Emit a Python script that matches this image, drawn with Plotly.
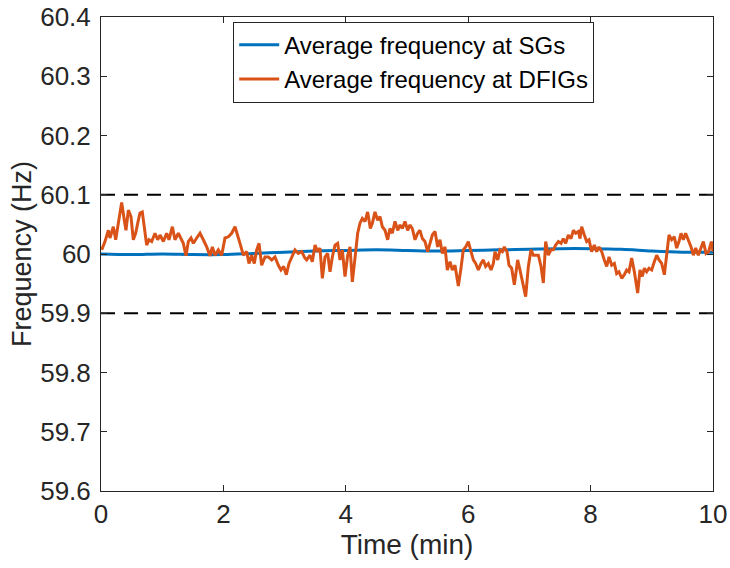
import plotly.graph_objects as go

# ---- data ----
sg_time = [0, 0.5, 1.0, 1.5, 2.0, 2.5, 3.0, 3.5, 4.0, 4.5, 5.0, 5.5, 6.0, 6.5, 7.0, 7.5, 8.0, 8.5, 9.0, 9.5, 10.0]
sg_freq = [60.0, 59.999, 60.0, 59.999, 59.999, 60.001, 60.003, 60.005, 60.006, 60.007, 60.006, 60.005, 60.006,
           60.007, 60.008, 60.009, 60.009, 60.008, 60.005, 60.003, 60.003]

dfig_time = [
    0.011, 0.065, 0.120, 0.147, 0.201, 0.240, 0.283, 0.338, 0.381, 0.408, 0.447, 0.490, 0.528, 0.566, 0.610,
    0.637, 0.675, 0.708, 0.746, 0.784, 0.828, 0.882, 0.926, 0.964, 1.019, 1.073, 1.111, 1.166, 1.209, 1.264,
    1.307, 1.345, 1.389, 1.427, 1.471, 1.509, 1.563, 1.618, 1.672, 1.727, 1.781, 1.819, 1.863, 1.917, 1.972,
    2.026, 2.081, 2.135, 2.190, 2.233, 2.271, 2.326, 2.380, 2.418, 2.462, 2.505, 2.544, 2.582, 2.625, 2.680,
    2.734, 2.789, 2.843, 2.898, 2.941, 2.985, 3.028, 3.072, 3.115, 3.170, 3.224, 3.279, 3.333,
    3.361, 3.415, 3.453, 3.497, 3.540, 3.578, 3.617, 3.660, 3.704, 3.742, 3.780, 3.824, 3.867, 3.905, 3.943,
    3.987, 4.031, 4.069, 4.107, 4.150, 4.194, 4.232, 4.270, 4.314, 4.357, 4.401, 4.434, 4.477, 4.521, 4.559,
    4.597, 4.641, 4.684, 4.722, 4.760, 4.804, 4.848, 4.886, 4.924, 4.967, 5.011, 5.049, 5.087, 5.131, 5.174,
    5.212, 5.251, 5.294, 5.338, 5.376, 5.414, 5.458, 5.501, 5.539, 5.577, 5.621, 5.659, 5.703, 5.741, 5.784,
    5.839, 5.882, 5.920, 5.959, 6.002, 6.046, 6.084, 6.122, 6.166, 6.209, 6.247, 6.285, 6.329, 6.373, 6.411,
    6.438, 6.482, 6.520, 6.558, 6.590, 6.634, 6.667, 6.710, 6.754, 6.808, 6.846, 6.885, 6.939, 6.983, 7.026,
    7.064, 7.102, 7.146, 7.190, 7.228, 7.266, 7.309, 7.353, 7.391, 7.429, 7.473, 7.516, 7.554, 7.593, 7.636,
    7.680, 7.718, 7.756, 7.800, 7.827, 7.854, 7.898, 7.936, 7.974, 8.017, 8.061, 8.099, 8.137, 8.181, 8.224,
    8.263, 8.301, 8.344, 8.388, 8.426, 8.464, 8.508, 8.551, 8.589, 8.627, 8.671, 8.715, 8.769, 8.807, 8.845,
    8.878, 8.916, 8.954, 8.998, 9.041, 9.080, 9.118, 9.161, 9.205, 9.243, 9.281, 9.325, 9.368, 9.406, 9.444,
    9.477, 9.515, 9.553, 9.597, 9.641, 9.679, 9.717, 9.760, 9.804, 9.842, 9.886, 9.929, 9.973, 10.0,
]
dfig_freq = [
    60.007, 60.021, 60.040, 60.027, 60.046, 60.024, 60.052, 60.087, 60.057, 60.040, 60.074, 60.063, 60.024, 60.035, 60.057,
    60.069, 60.071, 60.040, 60.015, 60.024, 60.021, 60.035, 60.024, 60.032, 60.021, 60.035, 60.024, 60.046, 60.024, 60.035,
    60.027, 60.018, 59.997, 60.021, 60.027, 60.018, 60.027, 60.035, 60.024, 60.012, 59.997, 60.012, 59.998, 60.007, 59.998,
    60.027, 60.029, 60.035, 60.046, 60.029, 60.018, 59.998, 60.004, 59.984, 59.998, 59.984, 60.007, 60.018, 59.981, 59.995,
    59.995, 59.990, 59.995, 59.981, 59.973, 59.979, 59.965, 59.984, 59.995, 60.007, 60.001, 60.004, 59.993,
    59.990, 59.998, 59.987, 60.015, 60.004, 60.010, 59.959, 59.995, 60.001, 59.970, 59.995, 60.015, 60.018, 59.990, 60.007,
    59.962, 59.998, 60.012, 59.953, 59.993, 60.035, 60.052, 60.060, 60.055, 60.071, 60.043, 60.052, 60.071, 60.057, 60.063,
    60.046, 60.040, 60.024, 60.043, 60.035, 60.055, 60.040, 60.049, 60.043, 60.055, 60.040, 60.049, 60.043, 60.024, 60.035,
    60.040, 60.026, 60.021, 60.004, 60.018, 60.032, 60.038, 60.012, 60.024, 60.001, 60.012, 59.973, 59.987, 59.973, 59.981,
    59.946, 59.976, 60.007, 60.012, 60.021, 60.004, 59.990, 59.984, 59.973, 59.984, 59.990, 59.979, 59.984, 59.973, 59.984,
    60.004, 59.990, 60.007, 60.004, 60.012, 60.004, 59.981, 59.976, 59.948, 59.990, 59.973, 59.956, 59.928, 59.979, 60.007,
    59.998, 59.998, 59.998, 59.979, 59.951, 60.021, 59.998, 60.007, 60.007, 60.015, 60.021, 60.018, 60.026, 60.018, 60.032,
    60.026, 60.040, 60.035, 60.038, 60.026, 60.046, 60.032, 60.021, 60.024, 60.004, 60.015, 60.004, 60.012, 60.004, 59.990,
    59.979, 59.995, 59.981, 59.984, 59.967, 59.970, 59.959, 59.965, 59.973, 59.970, 59.993, 59.970, 59.934, 59.973, 59.962,
    59.976, 59.970, 59.976, 59.973, 59.987, 59.998, 59.990, 59.984, 59.965, 59.998, 60.032, 60.024, 60.029, 60.010, 60.021,
    60.035, 60.024, 60.035, 60.024, 60.012, 59.998, 60.010, 59.998, 60.010, 60.021, 60.001, 60.004, 60.021, 60.004,
]

limit_time = [0, 10]
upper_limit = [60.1, 60.1]
lower_limit = [59.9, 59.9]

x_ticks = [0, 2, 4, 6, 8, 10]
y_ticks = [59.6, 59.7, 59.8, 59.9, 60.0, 60.1, 60.2, 60.3, 60.4]
y_tick_text = ["59.6", "59.7", "59.8", "59.9", "60", "60.1", "60.2", "60.3", "60.4"]

# ---- figure ----
FONT = "Liberation Sans, Arial, Helvetica, sans-serif"
AX = "#262626"

fig = go.Figure()
fig.add_trace(go.Scatter(x=limit_time, y=upper_limit, mode="lines", showlegend=False,
                         line=dict(color="black", width=2, dash="14px,9px"), hoverinfo="skip"))
fig.add_trace(go.Scatter(x=limit_time, y=lower_limit, mode="lines", showlegend=False,
                         line=dict(color="black", width=2, dash="14px,9px"), hoverinfo="skip"))
fig.add_trace(go.Scatter(x=sg_time, y=sg_freq, mode="lines", name="Average frequency at SGs",
                         line=dict(color="#0072BD", width=3, shape="spline")))
fig.add_trace(go.Scatter(x=dfig_time, y=dfig_freq, mode="lines", name="Average frequency at DFIGs",
                         line=dict(color="#D95319", width=3)))

fig.update_layout(
    width=730, height=568,
    margin=dict(l=101, r=17, t=17, b=77, autoexpand=False),
    paper_bgcolor="white", plot_bgcolor="white",
    font=dict(family=FONT, color=AX, size=26),
    legend=dict(x=0.216, y=0.99, xanchor="left", yanchor="top",
                bgcolor="white", bordercolor=AX, borderwidth=1,
                font=dict(size=24, color="black"), tracegroupgap=0,
                itemwidth=40),
    showlegend=True,
)
fig.update_xaxes(range=[0, 10], tickvals=x_ticks, ticks="inside", ticklen=6, tickcolor=AX,
                 showline=True, linecolor=AX, linewidth=1, mirror="ticks", showgrid=False, zeroline=False,
                 tickfont=dict(size=26, color=AX), automargin=False, ticklabeloverflow="allow",
                 title=dict(text="Time (min)", font=dict(size=28, color=AX), standoff=5))
fig.update_yaxes(range=[59.6, 60.4], tickvals=y_ticks, ticktext=y_tick_text, ticks="inside", ticklen=6,
                 tickcolor=AX, showline=True, linecolor=AX, linewidth=1, mirror="ticks", showgrid=False,
                 zeroline=False, tickfont=dict(size=26, color=AX), automargin=False, ticklabelstandoff=4,
                 ticklabeloverflow="allow",
                 title=dict(text="Frequency (Hz)", font=dict(size=27, color=AX), standoff=0))

# remove the browser's default 8px body margin so the figure fills the window exactly
fig.write_html("out.html", config={"displayModeBar": False},
               post_script="document.body.style.margin='0px';")
